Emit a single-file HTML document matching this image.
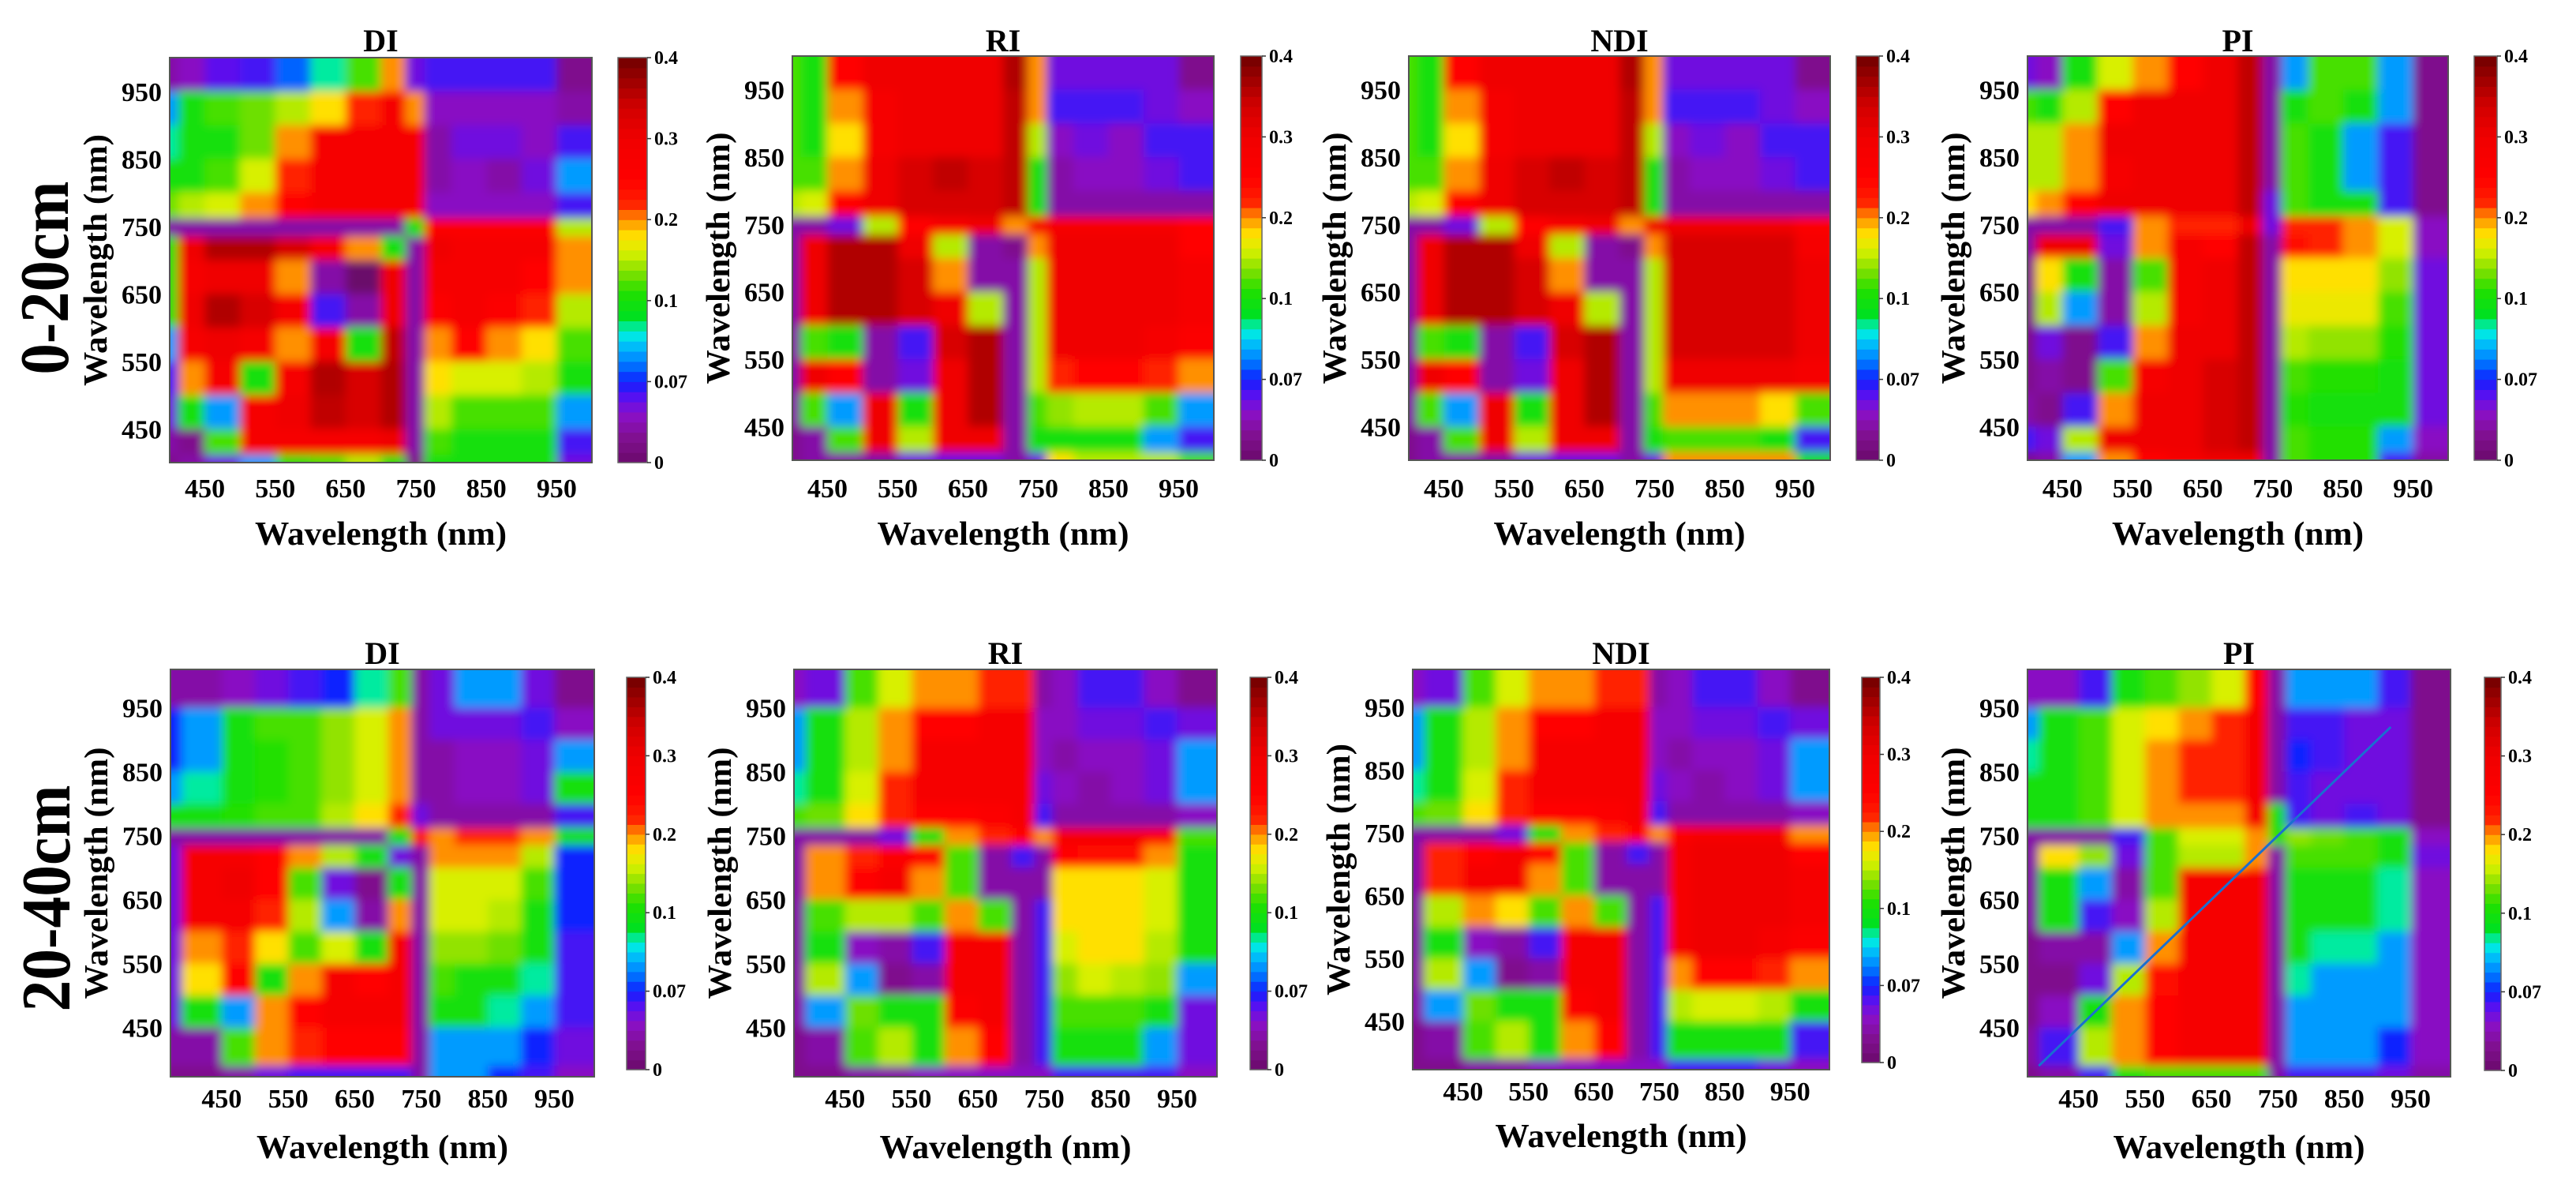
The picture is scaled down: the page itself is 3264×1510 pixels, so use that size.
<!DOCTYPE html>
<html>
<head>
<meta charset="utf-8">
<style>
  html,body{margin:0;padding:0;background:#fff;}
  svg{display:block;font-family:"Liberation Serif",serif;font-weight:bold;}
</style>
</head>
<body>
<svg id="fig" width="3264" height="1510" viewBox="0 0 3264 1510" xmlns="http://www.w3.org/2000/svg">
  <defs>
    <filter id="soft" x="-5%" y="-5%" width="110%" height="110%"><feGaussianBlur stdDeviation="6"/></filter>
  </defs>
  <rect x="0" y="0" width="3264" height="1510" fill="#fff"/>
  <text transform="translate(86,352) rotate(-90)" text-anchor="middle" font-size="88" textLength="245" lengthAdjust="spacingAndGlyphs">0-20cm</text>
  <text transform="translate(88,1138) rotate(-90)" text-anchor="middle" font-size="88" textLength="287" lengthAdjust="spacingAndGlyphs">20-40cm</text>
</svg>
<script>
// ---- data: bin edges (nm) ----
const EDGES_R1 = [400,412,450,500,550,600,650,700,735,762,800,850,900,950,1000];
const EDGES_R2 = [373,390,450,500,550,600,650,700,735,762,800,850,900,950,1010];
const TICK_VALUES = [450,550,650,750,850,950];
const CB_TICK_VALUES = [0,0.07,0.1,0.2,0.3,0.4];
const CB_TICK_LABELS = ["0","0.07","0.1","0.2","0.3","0.4"];
const PANEL_TITLES = ["DI","RI","NDI","PI","DI","RI","NDI","PI"];

// rows listed top (longest wavelength) to bottom; columns left to right
const DI_0_20 = [
[.03,.04,.055,.06,.075,.09,.12,.2,.05,.06,.06,.06,.06,.02],
[.08,.1,.12,.13,.15,.18,.22,.28,.2,.04,.04,.04,.04,.03],
[.09,.1,.1,.13,.2,.28,.28,.28,.28,.03,.05,.05,.04,.06],
[.1,.1,.12,.16,.22,.28,.28,.28,.28,.03,.04,.03,.05,.08],
[.13,.15,.16,.2,.25,.28,.28,.28,.28,.04,.04,.04,.04,.06],
[.03,.03,.03,.03,.03,.03,.03,.03,.1,.26,.26,.26,.26,.15],
[.1,.3,.36,.36,.33,.28,.2,.1,.03,.3,.28,.28,.28,.2],
[.1,.28,.3,.3,.2,.03,.0,.3,.03,.28,.28,.28,.25,.2],
[.1,.3,.36,.33,.28,.06,.03,.3,.03,.26,.28,.26,.22,.15],
[.08,.28,.3,.28,.2,.28,.1,.35,.03,.2,.25,.2,.18,.12],
[.06,.2,.28,.1,.28,.36,.33,.36,.03,.18,.16,.16,.15,.1],
[.05,.1,.08,.28,.3,.35,.33,.36,.03,.15,.12,.12,.12,.08],
[.03,.02,.12,.28,.28,.28,.28,.3,.03,.12,.1,.1,.1,.06],
[.02,.03,.05,.08,.1,.12,.15,.1,.02,.1,.1,.1,.1,.05]
];
const RI_0_20 = [
[.12,.1,.25,.3,.3,.3,.3,.36,.2,.05,.05,.05,.05,.02],
[.12,.1,.2,.28,.3,.3,.3,.35,.2,.06,.06,.06,.05,.04],
[.12,.1,.18,.28,.3,.3,.3,.35,.15,.04,.05,.04,.06,.06],
[.12,.12,.2,.3,.33,.35,.33,.35,.1,.03,.04,.04,.05,.06],
[.15,.16,.25,.3,.33,.33,.33,.35,.1,.03,.03,.03,.03,.03],
[.03,.03,.05,.15,.25,.28,.3,.2,.28,.28,.28,.28,.28,.25],
[.03,.3,.36,.36,.3,.15,.03,.02,.2,.3,.3,.3,.3,.25],
[.03,.3,.36,.36,.33,.2,.03,.03,.15,.3,.3,.3,.3,.28],
[.03,.3,.36,.36,.33,.3,.15,.03,.15,.3,.3,.3,.3,.28],
[.03,.12,.1,.03,.06,.33,.36,.03,.15,.3,.3,.3,.28,.26],
[.03,.3,.25,.03,.05,.3,.36,.03,.15,.22,.25,.25,.22,.2],
[.03,.12,.08,.3,.1,.3,.36,.03,.12,.14,.15,.15,.12,.08],
[.02,.03,.12,.3,.15,.3,.3,.03,.1,.1,.1,.1,.08,.06],
[.02,.03,.03,.03,.05,.05,.05,.03,.05,.18,.15,.15,.15,.12]
];
const NDI_0_20 = [
[.12,.1,.25,.3,.3,.3,.3,.36,.2,.05,.05,.05,.05,.02],
[.12,.1,.2,.28,.3,.3,.3,.35,.2,.06,.06,.06,.05,.04],
[.12,.1,.18,.28,.3,.3,.3,.35,.15,.04,.05,.04,.06,.06],
[.12,.12,.2,.3,.33,.35,.33,.35,.1,.03,.04,.04,.05,.06],
[.15,.16,.25,.3,.33,.33,.33,.35,.1,.03,.03,.03,.03,.03],
[.03,.03,.05,.15,.25,.28,.3,.2,.3,.3,.3,.3,.3,.26],
[.03,.3,.36,.36,.3,.15,.03,.02,.2,.33,.33,.33,.33,.28],
[.03,.3,.36,.36,.33,.2,.03,.03,.15,.33,.33,.33,.33,.3],
[.03,.3,.36,.36,.33,.3,.15,.03,.15,.33,.33,.33,.33,.3],
[.03,.12,.1,.03,.06,.33,.36,.03,.15,.33,.33,.33,.33,.3],
[.03,.3,.25,.03,.05,.3,.36,.03,.15,.3,.3,.3,.3,.28],
[.03,.12,.08,.3,.1,.3,.36,.03,.12,.2,.2,.2,.18,.12],
[.02,.03,.12,.3,.15,.3,.3,.03,.1,.12,.12,.12,.1,.06],
[.02,.03,.03,.03,.05,.05,.05,.03,.05,.2,.2,.2,.2,.1]
];
const PI_0_20 = [
[.05,.04,.1,.16,.2,.25,.3,.35,.03,.08,.12,.12,.08,.02],
[.12,.1,.15,.25,.3,.3,.3,.35,.03,.1,.12,.1,.08,.02],
[.15,.15,.2,.3,.3,.3,.3,.35,.03,.12,.1,.08,.06,.02],
[.15,.15,.2,.28,.3,.3,.3,.35,.03,.12,.1,.08,.06,.02],
[.18,.2,.25,.3,.3,.3,.3,.35,.05,.12,.1,.1,.06,.02],
[.03,.03,.03,.06,.2,.22,.22,.3,.05,.22,.22,.2,.16,.04],
[.03,.3,.3,.05,.2,.28,.25,.35,.03,.24,.22,.2,.16,.04],
[.02,.18,.1,.03,.12,.28,.3,.35,.03,.18,.18,.18,.14,.05],
[.02,.15,.08,.03,.15,.28,.3,.35,.03,.17,.17,.17,.12,.05],
[.02,.05,.02,.06,.2,.3,.3,.35,.03,.15,.14,.14,.11,.05],
[.02,.03,.02,.12,.28,.3,.33,.35,.03,.12,.11,.11,.1,.05],
[.03,.02,.06,.2,.3,.3,.33,.35,.03,.11,.1,.1,.1,.05],
[.06,.05,.15,.3,.3,.3,.33,.35,.03,.12,.11,.11,.08,.04],
[.02,.03,.08,.2,.25,.28,.3,.3,.03,.12,.11,.11,.06,.03]
];
const DI_20_40 = [
[.03,.03,.04,.05,.06,.07,.09,.12,.03,.05,.08,.08,.05,.02],
[.07,.08,.1,.12,.12,.14,.16,.2,.03,.05,.05,.05,.06,.04],
[.07,.08,.1,.11,.12,.14,.16,.2,.03,.03,.04,.04,.05,.08],
[.08,.09,.1,.11,.12,.14,.16,.2,.03,.03,.04,.04,.05,.1],
[.1,.1,.11,.12,.12,.15,.18,.22,.05,.03,.03,.03,.03,.06],
[.03,.03,.03,.03,.03,.03,.03,.1,.25,.2,.22,.22,.2,.1],
[.05,.28,.28,.25,.2,.15,.1,.05,.03,.2,.2,.2,.15,.07],
[.05,.28,.3,.25,.12,.05,.02,.1,.03,.16,.16,.16,.12,.07],
[.05,.28,.28,.22,.15,.08,.03,.2,.03,.16,.16,.15,.1,.07],
[.05,.2,.22,.18,.12,.16,.1,.28,.03,.14,.14,.13,.1,.06],
[.05,.18,.25,.1,.2,.28,.25,.28,.03,.12,.1,.1,.09,.06],
[.05,.1,.08,.2,.25,.28,.28,.28,.03,.1,.1,.09,.08,.06],
[.03,.03,.12,.2,.22,.25,.25,.25,.03,.08,.08,.08,.07,.05],
[.02,.02,.03,.05,.06,.06,.06,.06,.03,.08,.08,.07,.06,.04]
];
const RI_20_40 = [
[.04,.05,.12,.16,.2,.2,.22,.22,.03,.04,.06,.06,.04,.02],
[.08,.1,.15,.2,.25,.25,.28,.28,.04,.04,.05,.05,.06,.05],
[.08,.1,.15,.2,.28,.28,.28,.28,.04,.03,.04,.04,.05,.08],
[.09,.1,.16,.22,.28,.28,.28,.28,.05,.04,.03,.04,.05,.08],
[.12,.13,.18,.22,.25,.25,.26,.28,.06,.03,.03,.03,.03,.04],
[.03,.03,.03,.05,.1,.2,.22,.25,.2,.28,.28,.28,.26,.12],
[.03,.2,.22,.26,.25,.12,.03,.06,.03,.25,.24,.24,.2,.1],
[.03,.2,.25,.28,.2,.12,.03,.03,.03,.18,.18,.18,.16,.1],
[.03,.12,.15,.15,.12,.2,.12,.03,.06,.18,.18,.18,.16,.1],
[.03,.1,.04,.03,.06,.28,.28,.03,.06,.16,.18,.18,.15,.1],
[.03,.15,.08,.02,.03,.28,.28,.03,.06,.14,.16,.15,.14,.08],
[.03,.08,.13,.1,.1,.26,.28,.03,.06,.12,.12,.12,.1,.05],
[.02,.03,.12,.15,.1,.2,.25,.03,.06,.1,.1,.1,.08,.05],
[.02,.02,.03,.03,.04,.04,.04,.04,.04,.06,.06,.06,.06,.04]
];
const NDI_20_40 = [
[.04,.05,.12,.16,.2,.2,.22,.22,.03,.04,.06,.06,.04,.02],
[.08,.1,.15,.2,.25,.25,.28,.28,.04,.04,.05,.05,.06,.05],
[.08,.1,.15,.2,.28,.28,.28,.28,.04,.03,.04,.04,.05,.08],
[.09,.1,.16,.22,.28,.28,.28,.28,.05,.04,.03,.04,.05,.08],
[.12,.13,.18,.22,.25,.25,.26,.28,.06,.03,.03,.03,.03,.04],
[.03,.03,.03,.05,.1,.2,.22,.25,.2,.26,.28,.28,.28,.2],
[.03,.22,.25,.28,.25,.12,.03,.06,.03,.28,.3,.3,.3,.25],
[.03,.22,.28,.28,.2,.12,.03,.03,.03,.28,.3,.3,.3,.28],
[.03,.15,.2,.18,.12,.2,.12,.03,.06,.28,.3,.3,.3,.28],
[.03,.1,.04,.03,.06,.28,.28,.03,.06,.28,.3,.3,.28,.26],
[.03,.15,.08,.02,.03,.28,.28,.03,.06,.2,.25,.25,.22,.2],
[.03,.08,.13,.1,.1,.26,.28,.03,.06,.15,.16,.16,.15,.1],
[.02,.03,.12,.15,.1,.2,.25,.03,.06,.1,.1,.1,.1,.06],
[.02,.02,.03,.03,.04,.04,.04,.04,.04,.06,.06,.06,.05,.04]
];
const PI_20_40 = [
[.04,.04,.06,.1,.12,.14,.16,.25,.03,.08,.08,.08,.06,.02],
[.08,.1,.12,.16,.18,.2,.22,.28,.03,.06,.06,.05,.05,.02],
[.09,.1,.12,.16,.2,.22,.22,.28,.03,.07,.06,.05,.05,.02],
[.1,.1,.12,.16,.2,.22,.22,.28,.03,.06,.05,.05,.05,.02],
[.1,.1,.12,.16,.2,.2,.2,.28,.1,.06,.05,.06,.05,.02],
[.03,.03,.03,.06,.12,.16,.16,.2,.1,.14,.13,.12,.1,.04],
[.03,.18,.14,.05,.12,.15,.15,.2,.03,.12,.12,.12,.1,.05],
[.03,.1,.08,.03,.12,.28,.28,.28,.03,.1,.1,.1,.09,.04],
[.03,.1,.06,.04,.15,.28,.28,.28,.03,.1,.1,.1,.09,.04],
[.02,.03,.03,.08,.2,.28,.28,.28,.03,.1,.09,.09,.08,.04],
[.02,.02,.05,.15,.24,.28,.28,.28,.03,.09,.08,.08,.08,.04],
[.02,.04,.1,.2,.25,.28,.28,.28,.03,.08,.08,.08,.08,.04],
[.03,.06,.15,.2,.25,.28,.28,.28,.03,.08,.08,.08,.07,.04],
[.02,.03,.06,.1,.12,.12,.12,.12,.03,.06,.06,.06,.05,.03]
];
const PI_20_40_DIAGONAL = [390, 920];

// ---- colour scale (non-linear colourbar) ----
const POS_STOPS = [[0,"#6b0a6b"],[.06,"#80108f"],[.12,"#8a10c8"],[.16,"#5a10f0"],[.2,"#1020ff"],[.24,"#0070ff"],[.28,"#00b0ff"],[.32,"#00f0e0"],[.36,"#00e020"],[.42,"#20e000"],[.47,"#80e000"],[.52,"#d8f000"],[.56,"#ffe000"],[.6,"#ff9000"],[.64,"#ff2000"],[.7,"#ff0000"],[.8,"#f00000"],[.88,"#d00000"],[1,"#700000"]];
function valToPos(v){
  const t=CB_TICK_VALUES, n=t.length;
  if(v<=t[0]) return 0; if(v>=t[n-1]) return 1;
  for(let i=0;i<n-1;i++){ if(v<=t[i+1]) return (i+(v-t[i])/(t[i+1]-t[i]))/(n-1); }
  return 1;
}
function hex(c){return [parseInt(c.slice(1,3),16),parseInt(c.slice(3,5),16),parseInt(c.slice(5,7),16)];}
function posToColor(p){
  for(let i=0;i<POS_STOPS.length-1;i++){
    const [p0,c0]=POS_STOPS[i],[p1,c1]=POS_STOPS[i+1];
    if(p<=p1){ const f=(p-p0)/(p1-p0), a=hex(c0), b=hex(c1);
      return "rgb("+a.map((x,k)=>Math.round(x+(b[k]-x)*f)).join(",")+")"; }
  }
  return POS_STOPS[POS_STOPS.length-1][1];
}
const colorOf = v => posToColor(valToPos(v));

// ---- layout ----
const NS="http://www.w3.org/2000/svg";
const svg=document.getElementById('fig');
const defs=svg.querySelector('defs');
function mk(tag,attrs,parent){const e=document.createElementNS(NS,tag);for(const k in attrs)e.setAttribute(k,attrs[k]);(parent||svg).appendChild(e);return e;}

const PANELS=[
 {data:DI_0_20,edges:EDGES_R1,px:215,py:73,pw:535,ph:513,cx:783,cw:37,cy:73,ch:513,tb:65,xb:630,xt:690},
 {data:RI_0_20,edges:EDGES_R1,px:1004,py:71,pw:534,ph:512,cx:1572,cw:27,cy:71,ch:512,tb:65,xb:630,xt:690},
 {data:NDI_0_20,edges:EDGES_R1,px:1785,py:71,pw:534,ph:512,cx:2352,cw:29,cy:71,ch:512,tb:65,xb:630,xt:690},
 {data:PI_0_20,edges:EDGES_R1,px:2569,py:71,pw:533,ph:512,cx:3135,cw:29,cy:71,ch:512,tb:65,xb:630,xt:690},
 {data:DI_20_40,edges:EDGES_R2,px:216,py:848,pw:537,ph:516,cx:794,cw:24,cy:858,ch:497,tb:841,xb:1403,xt:1467},
 {data:RI_20_40,edges:EDGES_R2,px:1006,py:848,pw:536,ph:516,cx:1584,cw:22,cy:858,ch:497,tb:841,xb:1403,xt:1467},
 {data:NDI_20_40,edges:EDGES_R2,px:1790,py:848,pw:528,ph:507,cx:2359,cw:23,cy:858,ch:488,tb:841,xb:1394,xt:1453},
 {data:PI_20_40,edges:EDGES_R2,px:2569,py:848,pw:536,ph:516,cx:3148,cw:21,cy:858,ch:498,tb:841,xb:1403,xt:1467}
];

PANELS.forEach((p,pi)=>{
  const E=p.edges, d0=E[0], d1=E[E.length-1], nb=E.length-1;
  const xs=v=>p.px+(v-d0)/(d1-d0)*p.pw;
  const ys=v=>p.py+p.ph-(v-d0)/(d1-d0)*p.ph;
  const cp=mk('clipPath',{id:'clip'+pi},defs);
  mk('rect',{x:p.px,y:p.py,width:p.pw,height:p.ph},cp);
  const outer=mk('g',{'clip-path':'url(#clip'+pi+')'});
  const g=mk('g',{filter:'url(#soft)'},outer);
  
  
  const PAD=24;
  p.data.forEach((row,i)=>{
    const yb=nb-1-i;
    row.forEach((v,j)=>{
      let x0=xs(E[j]),x1=xs(E[j+1]),y0=ys(E[yb+1]),y1=ys(E[yb]);
      if(j===0) x0-=PAD; if(j===row.length-1) x1+=PAD;
      if(i===0) y0-=PAD; if(i===p.data.length-1) y1+=PAD;
      const r=mk('rect',{x:x0.toFixed(2),y:y0.toFixed(2),width:(x1-x0+0.6).toFixed(2),height:(y1-y0+0.6).toFixed(2),fill:colorOf(v)},g);
      
      
    });
  });
  if(pi===7){
    const ln=mk('line',{x1:xs(PI_20_40_DIAGONAL[0]),y1:ys(PI_20_40_DIAGONAL[0]),x2:xs(PI_20_40_DIAGONAL[1]),y2:ys(PI_20_40_DIAGONAL[1]),stroke:"#1a6fd0","stroke-width":3});
    
    
  }
  const fr=mk('rect',{x:p.px,y:p.py,width:p.pw,height:p.ph,fill:'none',stroke:'#555','stroke-width':2});
  
  

  const t=mk('text',{x:p.px+p.pw/2,y:p.tb,'text-anchor':'middle','font-size':40});
  t.textContent=PANEL_TITLES[pi];
  
  

  TICK_VALUES.forEach(tv=>{
    const xl=mk('text',{x:xs(tv),y:p.xb,'text-anchor':'middle','font-size':34});
    xl.textContent=tv;
    
    
    const yl=mk('text',{x:p.px-10,y:ys(tv)+12,'text-anchor':'end','font-size':34});
    yl.textContent=tv;
    
    
  });
  const xt=mk('text',{x:p.px+p.pw/2,y:p.xt,'text-anchor':'middle','font-size':42,textLength:319,lengthAdjust:'spacingAndGlyphs'});
  xt.textContent='Wavelength (nm)';
  
  
  const yt=mk('text',{transform:'translate('+(p.px-80)+','+(p.py+p.ph/2)+') rotate(-90)','text-anchor':'middle','font-size':42,textLength:319,lengthAdjust:'spacingAndGlyphs'});
  yt.textContent='Wavelength (nm)';
  
  

  // colourbar
  const cg=mk('g',{});
  
  
  const NSEG=40;
  for(let k=0;k<NSEG;k++){
    const y0=p.cy+p.ch-(k+1)/NSEG*p.ch;
    const s=mk('rect',{x:p.cx,y:y0.toFixed(2),width:p.cw,height:(p.ch/NSEG+0.6).toFixed(2),fill:posToColor((k+0.5)/NSEG)},cg);
    
    
  }
  const cf=mk('rect',{x:p.cx,y:p.cy,width:p.cw,height:p.ch,fill:'none',stroke:'#666','stroke-width':1.5},cg);
  
  
  CB_TICK_VALUES.forEach((tv,k)=>{
    const yy=p.cy+p.ch-valToPos(tv)*p.ch;
    const tk=mk('line',{x1:p.cx+p.cw,y1:yy,x2:p.cx+p.cw+5,y2:yy,stroke:'#333','stroke-width':1.5},cg);
    
    
    const tl=mk('text',{x:p.cx+p.cw+9,y:yy+8,'font-size':24},cg);
    tl.textContent=CB_TICK_LABELS[k];
    
    
  });
});
</script>
</body>
</html>
